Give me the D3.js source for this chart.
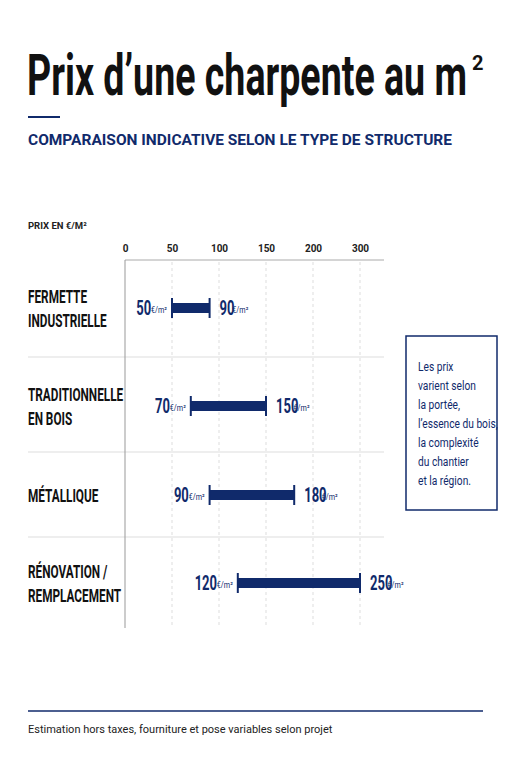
<!DOCTYPE html>
<html>
<head>
<meta charset="utf-8">
<script src="https://cdn.jsdelivr.net/npm/d3@7"></script>
<style>
  body { margin: 0; background: #fff; }
  .cond { font-family: Roboto, sans-serif; font-weight: bold; }
</style>
</head>
<body>
<svg id="chart" width="511" height="768"></svg>
<script>
const categories = [['FERMETTE', 'INDUSTRIELLE'], ['TRADITIONNELLE', 'EN BOIS'], ['MÉTALLIQUE'], ['RÉNOVATION /', 'REMPLACEMENT']];
const minValues = [50, 70, 90, 120];
const maxValues = [90, 150, 180, 250];
const tickValues = [0, 50, 100, 150, 200, 250];
const tickLabels = ['0', '50', '100', '150', '200', '300'];
const noteLines = ['Les prix', 'varient selon', 'la portée,', 'l’essence du bois,', 'la complexité', 'du chantier', 'et la région.'];

const navy = '#102a6b';
const svg = d3.select('#chart');

// squeeze a text horizontally to fake a condensed face
function condense(sel, f) {
  sel.each(function () {
    const w = this.getComputedTextLength();
    d3.select(this).attr('textLength', w * f).attr('lengthAdjust', 'spacingAndGlyphs');
  });
}

// title block
svg.append('text').attr('class', 'cond').attr('x', 27).attr('y', 95)
  .attr('font-size', 58).attr('fill', '#111').attr('textLength', 440).attr('lengthAdjust', 'spacingAndGlyphs')
  .text('Prix d’une charpente au m');
svg.append('text').attr('class', 'cond').attr('x', 472).attr('y', 70)
  .attr('font-size', 20).attr('fill', '#111').text('2');
svg.append('line').attr('x1', 28).attr('x2', 60).attr('y1', 117).attr('y2', 117)
  .attr('stroke', navy).attr('stroke-width', 2);
svg.append('text').attr('x', 28).attr('y', 145).attr('font-family', 'Roboto, sans-serif')
  .attr('font-weight', 'bold').attr('font-size', 15.5).attr('fill', navy)
  .attr('textLength', 424).attr('lengthAdjust', 'spacingAndGlyphs')
  .text('COMPARAISON INDICATIVE SELON LE TYPE DE STRUCTURE');
svg.append('text').attr('x', 28).attr('y', 229).attr('font-family', 'Roboto, sans-serif')
  .attr('font-weight', 'bold').attr('font-size', 9.5).attr('fill', '#222').text('PRIX EN €/M²');

// scales
const x = d3.scaleLinear().domain([0, 250]).range([125, 360]);
const rowBounds = [262, 357, 452, 537, 628];
const rowCenters = [308, 406, 495, 583];

// grid
svg.append('g').selectAll('line').data(tickValues.slice(1)).join('line')
  .attr('x1', d => x(d)).attr('x2', d => x(d)).attr('y1', 262).attr('y2', 628)
  .attr('stroke', '#ddd').attr('stroke-dasharray', '3,3');
svg.append('g').selectAll('line').data(rowBounds.slice(1, 4)).join('line')
  .attr('x1', 28).attr('x2', 384).attr('y1', d => d).attr('y2', d => d)
  .attr('stroke', '#ddd').attr('stroke-width', 1.2);

// axis
const axis = svg.append('g').attr('transform', 'translate(0,260)')
  .call(d3.axisTop(x).tickValues(tickValues).tickFormat((d, i) => tickLabels[i]).tickSize(0).tickPadding(8));
axis.select('.domain').remove();
axis.selectAll('text').attr('font-family', 'Roboto, sans-serif').attr('font-weight', 'bold')
  .attr('font-size', 10).attr('fill', '#222');
svg.append('line').attr('x1', 125).attr('x2', 384).attr('y1', 260).attr('y2', 260).attr('stroke', '#aaa');
svg.append('line').attr('x1', 125).attr('x2', 125).attr('y1', 260).attr('y2', 628).attr('stroke', '#999');

// category labels
categories.forEach((lines, i) => {
  const y0 = rowCenters[i] - (lines.length - 1) * 12 + 7;
  lines.forEach((l, j) => svg.append('text').attr('class', 'cond').attr('font-size', 19).attr('fill', '#111')
    .attr('x', 28).attr('y', y0 + j * 24).text(l).call(condense, 0.62));
});

// range bars
const rows = svg.append('g').selectAll('g').data(minValues).join('g');
rows.append('rect').attr('x', d => x(d)).attr('width', (d, i) => x(maxValues[i]) - x(d))
  .attr('y', (d, i) => rowCenters[i] - 5).attr('height', 10).attr('fill', navy);
rows.each(function (d, i) {
  const g = d3.select(this);
  const cy = rowCenters[i];
  [d, maxValues[i]].forEach(v => g.append('line').attr('x1', x(v)).attr('x2', x(v))
    .attr('y1', cy - 10).attr('y2', cy + 10).attr('stroke', navy).attr('stroke-width', 2));
  // low label: unit then number, right-aligned before the bar
  const unitLo = g.append('text').attr('x', x(d) - 5).attr('y', cy + 5).attr('text-anchor', 'end')
    .attr('font-family', 'Roboto, sans-serif').attr('font-size', 9).attr('fill', navy).text('€/m²').call(condense, 0.8);
  const uw = unitLo.node().getComputedTextLength() * 0.8;
  g.append('text').attr('class', 'cond').attr('x', x(d) - 8 - uw).attr('y', cy + 7).attr('text-anchor', 'end')
    .attr('font-size', 20).attr('fill', navy).text(d).call(condense, 0.65);
  const num = g.append('text').attr('class', 'cond').attr('x', x(maxValues[i]) + 10).attr('y', cy + 7)
    .attr('font-size', 20).attr('fill', navy).text(maxValues[i]).call(condense, 0.65);
  const nw = num.node().getComputedTextLength() * 0.65;
  g.append('text').attr('x', x(maxValues[i]) + 13 + nw).attr('y', cy + 5)
    .attr('font-family', 'Roboto, sans-serif').attr('font-size', 9).attr('fill', navy).text('€/m²').call(condense, 0.8);
});

// note box
svg.append('rect').attr('x', 406).attr('y', 336).attr('width', 91).attr('height', 174)
  .attr('fill', 'none').attr('stroke', navy).attr('stroke-width', 1.5);
svg.append('g').selectAll('text').data(noteLines).join('text')
  .attr('x', 418).attr('y', (d, i) => 371 + i * 19).attr('font-family', 'Roboto, sans-serif')
  .attr('font-size', 12).attr('fill', navy).text(d => d).call(condense, 0.85);

// footer
svg.append('line').attr('x1', 28).attr('x2', 483).attr('y1', 711).attr('y2', 711).attr('stroke', navy).attr('stroke-width', 1.5);
svg.append('text').attr('x', 28).attr('y', 733).attr('font-family', 'Roboto, sans-serif')
  .attr('font-size', 11).attr('fill', '#222').text('Estimation hors taxes, fourniture et pose variables selon projet');
</script>
</body>
</html>
